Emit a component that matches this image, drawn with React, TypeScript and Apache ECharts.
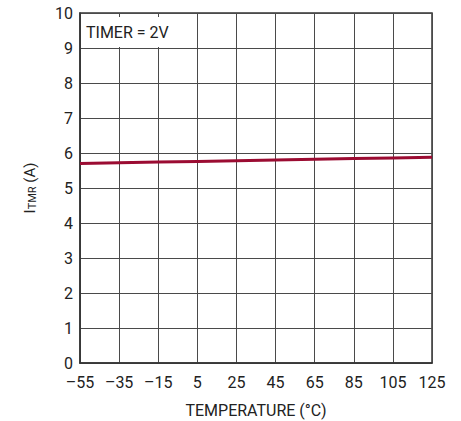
import React, { useEffect, useRef } from "react";
import * as echarts from "echarts";

const temperatures = [-55, -35, -15, 5, 25, 45, 65, 85, 105, 125];
const currentA = [5.7, 5.72, 5.74, 5.76, 5.78, 5.8, 5.82, 5.84, 5.86, 5.88];
const yTicks = [0, 1, 2, 3, 4, 5, 6, 7, 8, 9, 10];
const annotation = "TIMER = 2V";

const FONT = "Roboto, 'Liberation Sans', sans-serif";

export default function App() {
  const ref = useRef<HTMLDivElement>(null);
  useEffect(() => {
    if (!ref.current) return;
    const chart = echarts.init(ref.current, undefined, { renderer: "svg" });
    const gridL = 80, gridT = 13, gridR = 29, gridB = 58;
    chart.setOption({
      animation: false,
      backgroundColor: "#fff",
      grid: {
        left: gridL, top: gridT, right: gridR, bottom: gridB,
        show: true, borderColor: "#333", borderWidth: 1.5,
        containLabel: false, outerBoundsMode: "none",
      },
      xAxis: {
        type: "value",
        min: -55,
        max: 125,
        interval: 20,
        name: "TEMPERATURE (°C)",
        nameLocation: "middle",
        nameGap: 39,
        nameTextStyle: { fontFamily: FONT, fontSize: 16, color: "#222" },
        axisLine: { show: true, onZero: false, lineStyle: { color: "#333", width: 1.5 } },
        axisTick: { show: false },
        splitLine: { show: true, lineStyle: { color: "#4a4a4a", width: 1 } },
        axisLabel: {
          fontFamily: FONT,
          fontSize: 16,
          color: "#222",
          margin: 11,
          formatter: (v: number) => (v < 0 ? "\u2013" + Math.abs(v) : String(v)),
        },
      },
      yAxis: {
        type: "value",
        min: yTicks[0],
        max: yTicks[yTicks.length - 1],
        interval: 1,
        name: "{a|I}{b|TMR}{a| (A)}",
        nameLocation: "middle",
        nameGap: 42,
        nameRotate: 90,
        nameTextStyle: {
          rich: {
            a: { fontFamily: FONT, fontSize: 15, color: "#222" },
            b: { fontFamily: FONT, fontSize: 11, color: "#222", verticalAlign: "bottom", padding: [6, 0, 0, 0] },
          },
        },
        axisLine: { show: true, onZero: false, lineStyle: { color: "#333", width: 1.5 } },
        axisTick: { show: false },
        splitLine: { show: true, lineStyle: { color: "#4a4a4a", width: 1 } },
        axisLabel: { fontFamily: FONT, fontSize: 16, color: "#222", margin: 7 },
      },
      graphic: [
        {
          type: "rect",
          shape: { x: 81, y: 17, width: 115, height: 30 },
          style: { fill: "#fff", stroke: null },
          z: 10,
        },
        {
          type: "text",
          x: 86,
          y: 32,
          style: { text: annotation, fontFamily: FONT, fontSize: 16, fill: "#222", verticalAlign: "middle" },
          z: 11,
        },
      ],
      series: [
        {
          type: "line",
          data: temperatures.map((t, i) => [t, currentA[i]]),
          showSymbol: false,
          lineStyle: { color: "#9b0c32", width: 3 },
          z: 5,
        },
      ],
    });
    return () => chart.dispose();
  }, []);
  return (
    <div
      ref={ref}
      style={{ position: "absolute", left: 0, top: 0, width: 461, height: 421 }}
    />
  );
}
